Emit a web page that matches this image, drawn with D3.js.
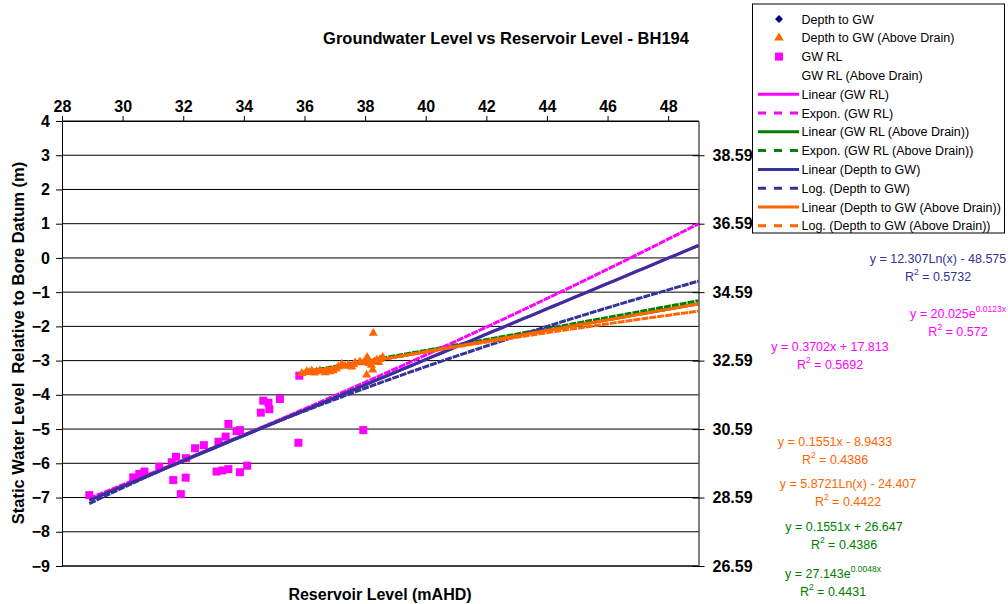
<!DOCTYPE html>
<html><head><meta charset="utf-8">
<script src="https://cdn.jsdelivr.net/npm/d3@7"></script>
<style>body{margin:0;background:#fff} svg{display:block} text{font-family:"Liberation Sans",Arial,sans-serif}</style>
</head><body><svg id="c" width="1008" height="604"></svg>
<script>
// ---------- data ----------
const reservoirLevel = [28.90, 30.35, 30.55, 30.72, 31.21, 31.62, 31.76, 31.67, 32.08, 31.92, 32.09, 32.39, 32.68, 33.10, 33.29, 33.49, 33.16, 33.40, 33.49, 33.76, 33.87, 33.87, 34.11, 34.56, 34.64, 34.81, 34.84, 35.19, 35.83, 35.80, 37.94];
const depthToGW = [-6.93, -6.41, -6.31, -6.24, -6.10, -5.97, -5.81, -6.49, -6.42, -6.90, -5.85, -5.56, -5.47, -6.24, -6.21, -6.17, -5.37, -5.22, -4.85, -5.06, -5.03, -6.26, -6.07, -4.52, -4.17, -4.23, -4.42, -4.12, -3.44, -5.40, -5.03];
const gwRL = [28.66, 29.18, 29.28, 29.35, 29.49, 29.62, 29.78, 29.10, 29.17, 28.69, 29.74, 30.03, 30.12, 29.35, 29.38, 29.42, 30.22, 30.37, 30.74, 30.53, 30.56, 29.33, 29.52, 31.07, 31.42, 31.36, 31.17, 31.47, 32.15, 30.19, 30.56];
const reservoirLevelAboveDrain = [35.91, 36.07, 36.15, 36.24, 36.33, 36.40, 36.51, 36.68, 36.76, 36.84, 36.95, 37.05, 37.12, 37.23, 37.34, 37.45, 37.56, 37.62, 37.67, 37.83, 37.94, 38.03, 38.07, 38.10, 38.14, 38.21, 38.32, 38.38, 38.45, 38.49, 38.58, 38.27, 38.05, 38.25];
const depthToGWAboveDrain = [-3.37, -3.32, -3.34, -3.30, -3.36, -3.32, -3.29, -3.35, -3.30, -3.32, -3.29, -3.24, -3.18, -3.10, -3.16, -3.13, -3.18, -3.12, -3.06, -3.03, -3.06, -2.98, -2.90, -3.00, -3.08, -3.13, -3.03, -2.98, -3.05, -2.96, -2.90, -2.20, -3.42, -3.27];

const topTicks = [28, 30, 32, 34, 36, 38, 40, 42, 44, 46, 48];
const leftTicks = [-9, -8, -7, -6, -5, -4, -3, -2, -1, 0, 1, 2, 3, 4];
const rightTicks = [26.59, 28.59, 30.59, 32.59, 34.59, 36.59, 38.59];

// trendline coefficients (as printed on the chart)
const linGWRL = [0.3702, 17.813];
const expGWRL = [20.025, 0.0123];
const linGWRLAbove = [0.1551, 26.647];
const expGWRLAbove = [27.143, 0.0048];
const linDepth = [0.3702, -17.777];
const logDepth = [12.307, -48.575];
const linDepthAbove = [0.1551, -8.9433];
const logDepthAbove = [5.8721, -24.407];

const legendLabels = ["Depth to GW", "Depth to GW (Above Drain)", "GW RL", "GW RL (Above Drain)",
  "Linear (GW RL)", "Expon. (GW RL)", "Linear (GW RL (Above Drain))", "Expon. (GW RL (Above Drain))",
  "Linear (Depth to GW)", "Log. (Depth to GW)", "Linear (Depth to GW (Above Drain))", "Log. (Depth to GW (Above Drain))"];

const C = {navy:"#000080", orange:"#FF6600", magenta:"#FF00FF", green:"#008000", blue:"#333399"};

// ---------- chart ----------
const svg = d3.select("#c");
const X0 = 62, X1 = 698.5, Y0 = 121, Y1 = 566;
const x = d3.scaleLinear().domain([28, 49]).range([X0, X1]);
const yL = d3.scaleLinear().domain([-9, 4]).range([Y1, Y0]);
const yR = d3.scaleLinear().domain([26.59, 39.59]).range([Y1, Y0]);

// gridlines
svg.append("g").selectAll("line").data(leftTicks).join("line")
  .attr("x1", X0).attr("x2", X1).attr("y1", d => yL(d)).attr("y2", d => yL(d))
  .attr("stroke", "#000").attr("stroke-width", 1);

// axes
const fontTick = "bold 16px 'Liberation Sans', Arial, sans-serif";
const gTop = svg.append("g").attr("transform", `translate(0,${Y0})`)
  .call(d3.axisTop(x).tickValues(topTicks).tickSize(5).tickPadding(4).tickSizeOuter(0));
const gLeft = svg.append("g").attr("transform", `translate(${X0},0)`)
  .call(d3.axisLeft(yL).tickValues(leftTicks).tickSize(6).tickPadding(6).tickSizeOuter(0));
const gRight = svg.append("g").attr("transform", `translate(${X1},0)`)
  .call(d3.axisRight(yR).tickValues(rightTicks).tickFormat(d3.format(".2f")).tickSize(6).tickPadding(8).tickSizeOuter(0));
gRight.selectAll(".tick line").attr("x1", -6);
[gTop, gLeft, gRight].forEach(g => {
  g.select(".domain").attr("stroke", "#000");
  g.selectAll(".tick line").attr("stroke", "#000");
  g.selectAll(".tick text").style("font", fontTick).attr("fill", "#000");
});
// bottom border
svg.append("line").attr("x1", X0).attr("x2", X1).attr("y1", Y1).attr("y2", Y1).attr("stroke", "#000");

// trendlines
function trend(fn, xmin, color, dashed, yScale) {
  const xs = d3.range(0, 81).map(i => xmin + (49 - xmin) * i / 80);
  svg.append("path")
    .attr("d", d3.line().x(v => x(v)).y(v => yScale(fn(v)))(xs))
    .attr("fill", "none").attr("stroke", color).attr("stroke-width", 3)
    .attr("stroke-dasharray", dashed ? "7,1" : null);
}
const xMinMain = d3.min(reservoirLevel), xMinAbove = d3.min(reservoirLevelAboveDrain);

// markers: depth (diamonds) beneath GW RL squares
svg.append("g").selectAll("path").data(reservoirLevel).join("path")
  .attr("d", d3.symbol().type(d3.symbolDiamond2).size(24))
  .attr("transform", (d, i) => `translate(${x(d)},${yL(depthToGW[i])})`)
  .attr("fill", C.navy);
svg.append("g").selectAll("rect").data(reservoirLevel).join("rect")
  .attr("x", d => x(d) - 4).attr("y", (d, i) => yR(gwRL[i]) - 4)
  .attr("width", 8).attr("height", 8).attr("fill", C.magenta);

trend(v => linGWRLAbove[0] * v + linGWRLAbove[1], xMinAbove, C.green, false, yR);
trend(v => expGWRLAbove[0] * Math.exp(expGWRLAbove[1] * v), xMinAbove, C.green, true, yR);
trend(v => linGWRL[0] * v + linGWRL[1], xMinMain, C.magenta, false, yR);
trend(v => expGWRL[0] * Math.exp(expGWRL[1] * v), xMinMain, C.magenta, true, yR);
trend(v => linDepth[0] * v + linDepth[1], xMinMain, C.blue, false, yL);
trend(v => logDepth[0] * Math.log(v) + logDepth[1], xMinMain, C.blue, true, yL);
trend(v => linDepthAbove[0] * v + linDepthAbove[1], xMinAbove, C.orange, false, yL);
trend(v => logDepthAbove[0] * Math.log(v) + logDepthAbove[1], xMinAbove, C.orange, true, yL);

// triangles
svg.append("g").selectAll("path").data(reservoirLevelAboveDrain).join("path")
  .attr("d", d3.symbol().type(d3.symbolTriangle).size(36))
  .attr("transform", (d, i) => `translate(${x(d)},${yL(depthToGWAboveDrain[i])})`)
  .attr("fill", C.orange);

// titles
svg.append("text").attr("x", 506).attr("y", 44).attr("text-anchor", "middle")
  .style("font", "bold 16.5px 'Liberation Sans', Arial, sans-serif").text("Groundwater Level vs Reservoir Level - BH194");
svg.append("text").attr("x", 380).attr("y", 600).attr("text-anchor", "middle")
  .style("font", "bold 16px 'Liberation Sans', Arial, sans-serif").text("Reservoir Level (mAHD)");
svg.append("text").attr("transform", "translate(24,343) rotate(-90)").attr("text-anchor", "middle")
  .style("font", "bold 16.5px 'Liberation Sans', Arial, sans-serif").style("white-space", "pre")
  .text("Static Water Level  Relative to Bore Datum (m)");

// trendline labels
const labels = [
  {t: "y = 12.307Ln(x) - 48.575", r: "0.5732", c: C.blue, x: 938, y: 263},
  {t: "y = 20.025e", sup: "0.0123x", r: "0.572", c: C.magenta, x: 958, y: 318},
  {t: "y = 0.3702x + 17.813", r: "0.5692", c: C.magenta, x: 830, y: 351},
  {t: "y = 0.1551x - 8.9433", r: "0.4386", c: C.orange, x: 835, y: 446},
  {t: "y = 5.8721Ln(x) - 24.407", r: "0.4422", c: C.orange, x: 848, y: 488},
  {t: "y = 0.1551x + 26.647", r: "0.4386", c: C.green, x: 844, y: 531},
  {t: "y = 27.143e", sup: "0.0048x", r: "0.4431", c: C.green, x: 833, y: 578}
];
const fLab = "12.5px 'Liberation Sans', Arial, sans-serif";
labels.forEach(l => {
  const t1 = svg.append("text").attr("x", l.x).attr("y", l.y).attr("text-anchor", "middle")
    .style("font", fLab).attr("fill", l.c);
  t1.append("tspan").text(l.t);
  if (l.sup) t1.append("tspan").attr("dy", -6).style("font-size", "8.5px").text(l.sup);
  const t2 = svg.append("text").attr("x", l.x).attr("y", l.y + 17.5).attr("text-anchor", "middle")
    .style("font", fLab).attr("fill", l.c);
  t2.append("tspan").text("R");
  t2.append("tspan").attr("dy", -6).style("font-size", "8.5px").text("2");
  t2.append("tspan").attr("dy", 6).text(" = " + l.r);
});

// legend
const LX = 752.5, LY = 4;
svg.append("rect").attr("x", LX).attr("y", LY).attr("width", 252).attr("height", 229)
  .attr("fill", "#fff").attr("stroke", "#000").attr("stroke-width", 1);
const lg = svg.append("g").selectAll("g").data(legendLabels).join("g")
  .attr("transform", (d, i) => `translate(0,${19 + i * 18.8})`);
lg.append("text").attr("x", 801.5).attr("y", 4.5).style("font", fLab).attr("fill", "#000").text(d => d);
const lineStyles = [null, null, null, null,
  [C.magenta, false], [C.magenta, true], [C.green, false], [C.green, true],
  [C.blue, false], [C.blue, true], [C.orange, false], [C.orange, true]];
lg.each(function(d, i) {
  const g = d3.select(this);
  if (i === 0) g.append("path").attr("d", d3.symbol().type(d3.symbolDiamond2).size(40)).attr("transform", "translate(779,0)").attr("fill", C.navy);
  if (i === 1) g.append("path").attr("d", d3.symbol().type(d3.symbolTriangle).size(40)).attr("transform", "translate(779,0)").attr("fill", C.orange);
  if (i === 2) g.append("rect").attr("x", 775).attr("y", -4).attr("width", 8).attr("height", 8).attr("fill", C.magenta);
  const s = lineStyles[i];
  if (s) g.append("line").attr("x1", 758).attr("x2", 799).attr("y1", 0).attr("y2", 0)
    .attr("stroke", s[0]).attr("stroke-width", 3).attr("stroke-dasharray", s[1] ? "8,8" : null);
});
</script></body></html>
